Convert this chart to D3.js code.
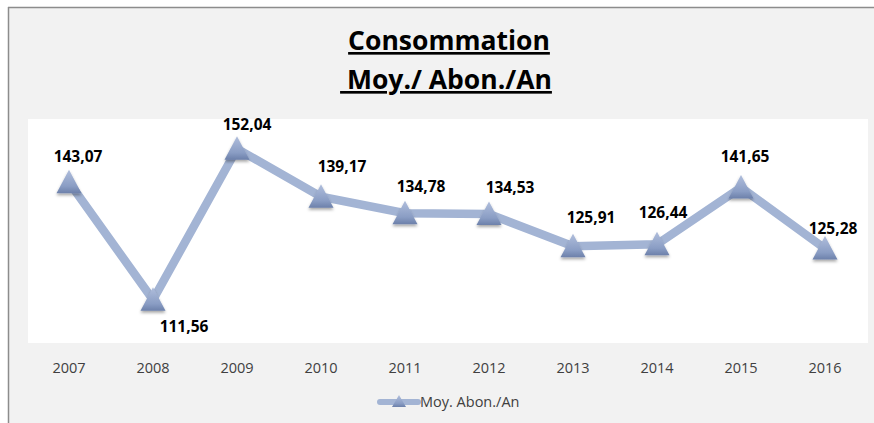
<!DOCTYPE html>
<html>
<head>
<meta charset="utf-8">
<script src="https://cdn.jsdelivr.net/npm/d3@7"></script>
<style>
  html, body { margin: 0; padding: 0; background: #ffffff; }
  svg { display: block; }
</style>
</head>
<body>
<svg id="chart" width="874" height="423"></svg>
<script>
// ---- data ----
const years = ["2007","2008","2009","2010","2011","2012","2013","2014","2015","2016"];
const values = [143.07, 111.56, 152.04, 139.17, 134.78, 134.53, 125.91, 126.44, 141.65, 125.28];
const titleLines = ["Consommation", " Moy./ Abon./An"];
const seriesName = "Moy. Abon./An";

// ---- label placement (layout, relative to point) ----
const labelDx = [9, 31, 10, 21, 16, 21, 18, 6, 4, 8];
const labelDy = [-20, 32, -19, -25, -21, -21, -23, -26, -26, -15];

const svg = d3.select("#chart");
const W = 874, H = 423;
const plot = { left: 27, right: 867, top: 119, bottom: 343 };

const fmt = d3.formatLocale({ decimal: ",", thousands: " ", grouping: [3], currency: ["", ""] }).format(".2f");

// defs
const defs = svg.append("defs");
const grad = defs.append("linearGradient").attr("id", "mk").attr("x1", 0).attr("y1", 0).attr("x2", 0).attr("y2", 1);
grad.append("stop").attr("offset", "0%").attr("stop-color", "#b0bedc");
grad.append("stop").attr("offset", "70%").attr("stop-color", "#8a9dc4");
grad.append("stop").attr("offset", "100%").attr("stop-color", "#6c80aa");
const f = defs.append("filter").attr("id", "sh").attr("x", "-50%").attr("y", "-50%").attr("width", "200%").attr("height", "200%");
f.append("feDropShadow").attr("dx", 0).attr("dy", 2).attr("stdDeviation", 1.5).attr("flood-color", "#000").attr("flood-opacity", 0.35);

// background
svg.append("rect").attr("x", 0).attr("y", 0).attr("width", W).attr("height", H).attr("fill", "#ffffff");
svg.append("rect").attr("x", 8).attr("y", 7).attr("width", W - 8).attr("height", H - 7).attr("fill", "#f2f2f2");
svg.append("line").attr("x1", 8).attr("x2", W).attr("y1", 7.5).attr("y2", 7.5).attr("stroke", "#8c8c8c").attr("stroke-width", 1.5);
svg.append("line").attr("x1", 8.5).attr("x2", 8.5).attr("y1", 7).attr("y2", H).attr("stroke", "#8c8c8c").attr("stroke-width", 1.5);

// plot area
svg.append("rect").attr("x", plot.left + 1).attr("y", plot.top)
  .attr("width", plot.right - plot.left).attr("height", plot.bottom - plot.top).attr("fill", "#ffffff");

// title
const title = svg.append("text").attr("text-anchor", "middle")
  .attr("font-family", "'Open Sans', sans-serif").attr("font-weight", "bold")
  .attr("font-size", 26.5).attr("fill", "#000").attr("text-decoration", "underline")
  .style("white-space", "pre");
title.append("tspan").attr("x", 449).attr("y", 50).text(titleLines[0]);
title.append("tspan").attr("x", 446).attr("y", 89).text(titleLines[1]);

// scales
const x = d3.scaleBand().domain(years).range([plot.left, plot.right]);
const y = d3.scaleLinear().domain([100, 160]).range([plot.bottom, plot.top]);
const cx = d => x(d) + x.bandwidth() / 2;

// x axis
const xAxis = svg.append("g").attr("transform", `translate(0,${plot.bottom})`)
  .call(d3.axisBottom(x).tickSize(0).tickPadding(0));
xAxis.select(".domain").remove();
xAxis.selectAll("text").attr("font-family", "'Open Sans', sans-serif").attr("font-size", 14.5)
  .attr("fill", "#404040").attr("dy", null).attr("y", 30);

// line
const line = d3.line().x((d, i) => cx(years[i])).y(d => y(d));
svg.append("path").datum(values).attr("d", line).attr("fill", "none")
  .attr("stroke", "#a3b4d4").attr("stroke-width", 8.5).attr("stroke-linejoin", "miter");

// markers
const tri = "M0,-12.5L12.5,11L-12.5,11Z";
svg.append("g").selectAll("path").data(values).join("path")
  .attr("transform", (d, i) => `translate(${cx(years[i])},${y(d)})`)
  .attr("d", tri).attr("fill", "url(#mk)").attr("filter", "url(#sh)");

// labels
svg.append("g").selectAll("text").data(values).join("text")
  .attr("x", (d, i) => cx(years[i]) + labelDx[i])
  .attr("y", (d, i) => y(d) + labelDy[i])
  .attr("text-anchor", "middle")
  .attr("font-family", "'Open Sans', sans-serif").attr("font-weight", "bold")
  .attr("font-size", 15.5).attr("fill", "#000")
  .text(d => fmt(d));

// legend
const lg = svg.append("g").attr("transform", "translate(380,402)");
lg.append("line").attr("x1", 0).attr("x2", 38).attr("y1", 0).attr("y2", 0)
  .attr("stroke", "#a3b4d4").attr("stroke-width", 6).attr("stroke-linecap", "round");
lg.append("path").attr("transform", "translate(19,0)").attr("d", "M0,-7L7,5L-7,5Z").attr("fill", "url(#mk)");
lg.append("text").attr("x", 40).attr("y", 5).attr("font-family", "'Open Sans', sans-serif")
  .attr("font-size", 14.5).attr("fill", "#404040").text(seriesName);
</script>
</body>
</html>
